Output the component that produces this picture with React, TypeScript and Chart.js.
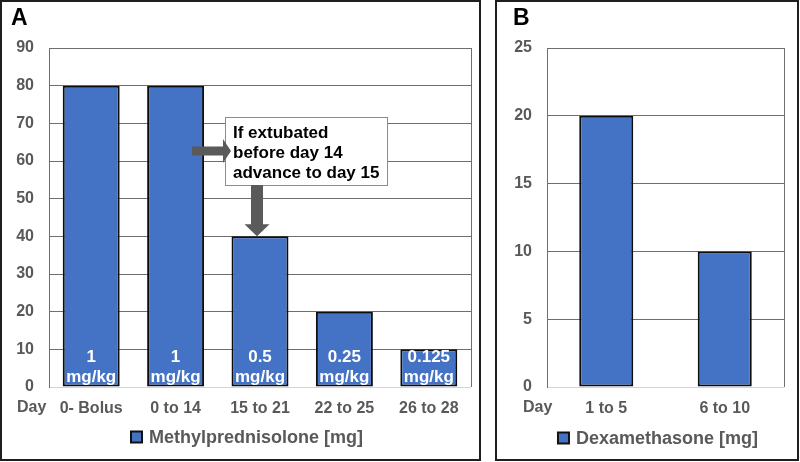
import React, { useEffect, useRef } from "react";
import { Chart, registerables } from "chart.js";
Chart.register(...registerables);

const FONT = "'Liberation Sans', Arial, sans-serif";

const methylCategories = ["0- Bolus", "0 to 14", "15 to 21", "22 to 25", "26 to 28"];
const methylValues = [80, 80, 40, 20, 10];
const methylDoseLabels = ["1", "1", "0.5", "0.25", "0.125"];
const methylMax = 90;
const methylStep = 10;
const methylLegend = "Methylprednisolone [mg]";

const dexCategories = ["1 to 5", "6 to 10"];
const dexValues = [20, 10];
const dexMax = 25;
const dexStep = 5;
const dexLegend = "Dexamethasone [mg]";

const annotationLines = ["If extubated", "before day 14", "advance to day 15"];

const GRID = "#6e6e6e";
const TICK = "#595959";
const BAR = "#4472C4";
const ARROW = "#5a5a5a";

type PanelOpts = {
  labels: string[];
  values: number[];
  max: number;
  step: number;
  barPct: number;
  yWidth: number;
  padRight: number;
  letter: string;
  letterX: number;
  dayX: number;
  legend: string;
  legendCx: number;
  legendY: number;
  extra?: (chart: any) => void;
};

function drawArrowRight(ctx: CanvasRenderingContext2D, x0: number, x1: number, headBase: number, cy: number, shaft: number, head: number) {
  ctx.beginPath();
  ctx.moveTo(x0, cy - shaft / 2);
  ctx.lineTo(headBase, cy - shaft / 2);
  ctx.lineTo(headBase, cy - head / 2);
  ctx.lineTo(x1, cy);
  ctx.lineTo(headBase, cy + head / 2);
  ctx.lineTo(headBase, cy + shaft / 2);
  ctx.lineTo(x0, cy + shaft / 2);
  ctx.closePath();
  ctx.fill();
}

function drawArrowDown(ctx: CanvasRenderingContext2D, y0: number, y1: number, headBase: number, cx: number, shaft: number, head: number) {
  ctx.beginPath();
  ctx.moveTo(cx - shaft / 2, y0);
  ctx.lineTo(cx - shaft / 2, headBase);
  ctx.lineTo(cx - head / 2, headBase);
  ctx.lineTo(cx, y1);
  ctx.lineTo(cx + head / 2, headBase);
  ctx.lineTo(cx + shaft / 2, headBase);
  ctx.lineTo(cx + shaft / 2, y0);
  ctx.closePath();
  ctx.fill();
}

function makeChart(canvas: HTMLCanvasElement, o: PanelOpts) {
  const plugin = {
    id: "panelDecor",
    beforeDatasetsDraw(chart: any) {
      const ctx = chart.ctx;
      const { right, top, bottom } = chart.chartArea;
      ctx.save();
      ctx.strokeStyle = GRID;
      ctx.lineWidth = 1;
      ctx.beginPath();
      ctx.moveTo(Math.round(right) + 0.5, top);
      ctx.lineTo(Math.round(right) + 0.5, bottom);
      ctx.stroke();
      ctx.restore();
    },
    afterDatasetsDraw(chart: any) {
      const ctx = chart.ctx;
      const { bottom } = chart.chartArea;
      ctx.save();
      // panel letter
      ctx.fillStyle = "#000";
      ctx.font = `bold 23px ${FONT}`;
      ctx.textAlign = "left";
      ctx.textBaseline = "middle";
      ctx.fillText(o.letter, o.letterX, 17);
      // Day
      ctx.fillStyle = TICK;
      ctx.font = `bold 16px ${FONT}`;
      ctx.textBaseline = "middle";
      ctx.fillText("Day", o.dayX, bottom + 21);
      // legend
      ctx.font = `bold 18px ${FONT}`;
      const tw = ctx.measureText(o.legend).width;
      const box = 11;
      const gap = 7;
      const total = box + gap + tw;
      const lx = o.legendCx - total / 2;
      ctx.fillStyle = BAR;
      ctx.fillRect(lx, o.legendY - box / 2, box, box);
      ctx.strokeStyle = "#111";
      ctx.lineWidth = 2;
      ctx.strokeRect(lx, o.legendY - box / 2, box, box);
      ctx.fillStyle = TICK;
      ctx.textBaseline = "middle";
      ctx.fillText(o.legend, lx + box + gap, o.legendY + 1);
      ctx.restore();
      if (o.extra) o.extra(chart);
    },
  };

  return new Chart(canvas, {
    type: "bar",
    data: {
      labels: o.labels,
      datasets: [
        {
          data: o.values,
          backgroundColor: BAR,
          borderColor: "#0d0d0d",
          borderWidth: 2,
          borderSkipped: false,
          barPercentage: o.barPct,
          categoryPercentage: 1,
        },
      ],
    },
    options: {
      responsive: false,
      animation: false,
      layout: { padding: { top: 46, right: o.padRight, left: 0, bottom: 0 } },
      plugins: { legend: { display: false }, tooltip: { enabled: false } },
      scales: {
        x: {
          grid: { display: false, drawTicks: false },
          border: { display: false },
          ticks: {
            color: TICK,
            font: { family: FONT, size: 16, weight: "bold" },
            padding: 12,
            maxRotation: 0,
            autoSkip: false,
          },
          afterFit: (s: any) => {
            s.height = 72;
          },
        },
        y: {
          min: 0,
          max: o.max,
          grid: {
            drawTicks: false,
            color: (c: any) => (c.tick && c.tick.value === 0 ? "#d4d4d4" : GRID),
            lineWidth: 1,
          },
          border: { display: true, color: GRID, width: 1 },
          ticks: {
            stepSize: o.step,
            color: TICK,
            font: { family: FONT, size: 16, weight: "bold" },
            padding: 15,
          },
          afterFit: (s: any) => {
            s.width = o.yWidth;
          },
        },
      },
    },
    plugins: [plugin],
  } as any);
}

function drawMethylExtras(chart: any) {
  const ctx = chart.ctx;
  const { bottom } = chart.chartArea;
  const meta = chart.getDatasetMeta(0);
  const ys = chart.scales.y;
  ctx.save();
  // dose labels inside bars
  ctx.fillStyle = "#fff";
  ctx.font = `bold 17px ${FONT}`;
  ctx.textAlign = "center";
  ctx.textBaseline = "alphabetic";
  meta.data.forEach((bar: any, i: number) => {
    ctx.fillText(methylDoseLabels[i], bar.x, bottom - 25);
    ctx.fillText("mg/kg", bar.x, bottom - 5);
  });
  // annotation box
  const bx = 223, by = 115, bw = 162, bh = 68;
  ctx.fillStyle = "#fff";
  ctx.fillRect(bx, by, bw, bh);
  ctx.strokeStyle = "#8c8c8c";
  ctx.lineWidth = 1;
  ctx.strokeRect(bx + 0.5, by + 0.5, bw, bh);
  ctx.fillStyle = "#000";
  ctx.font = `bold 17px ${FONT}`;
  ctx.textAlign = "left";
  annotationLines.forEach((t, i) => {
    ctx.fillText(t, 231, 136 + i * 20);
  });
  // arrows
  ctx.fillStyle = ARROW;
  drawArrowRight(ctx, 190, 229, 221, 149, 9, 24);
  const tipY = ys.getPixelForValue(methylValues[2]);
  drawArrowDown(ctx, 183, tipY, tipY - 12, 255, 12, 25);
  ctx.restore();
}

function Panel(props: { left: number; width: number; opts: PanelOpts }) {
  const ref = useRef<HTMLCanvasElement>(null);
  useEffect(() => {
    if (!ref.current) return;
    const ch = makeChart(ref.current, props.opts);
    return () => ch.destroy();
  }, []);
  return (
    <div
      style={{
        position: "absolute",
        left: props.left,
        top: 0,
        width: props.width,
        height: 461,
        border: "2px solid #1f1f1f",
        boxSizing: "border-box",
        background: "#fff",
      }}
    >
      <canvas ref={ref} width={props.width - 4} height={457} style={{ display: "block" }} />
    </div>
  );
}

export default function App() {
  const optsA: PanelOpts = {
    labels: methylCategories,
    values: methylValues,
    max: methylMax,
    step: methylStep,
    barPct: 0.675,
    yWidth: 47,
    padRight: 8,
    letter: "A",
    letterX: 9,
    dayX: 15,
    legend: methylLegend,
    legendCx: 245,
    legendY: 435,
    extra: drawMethylExtras,
  };
  const optsB: PanelOpts = {
    labels: dexCategories,
    values: dexValues,
    max: dexMax,
    step: dexStep,
    barPct: 0.456,
    yWidth: 50,
    padRight: 13,
    letter: "B",
    letterX: 16,
    dayX: 26,
    legend: dexLegend,
    legendCx: 161,
    legendY: 436,
  };
  return (
    <div style={{ position: "fixed", left: 0, top: 0, width: 800, height: 462, background: "#fff", fontFamily: FONT }}>
      <Panel left={0} width={481} opts={optsA} />
      <Panel left={495} width={304} opts={optsB} />
    </div>
  );
}
